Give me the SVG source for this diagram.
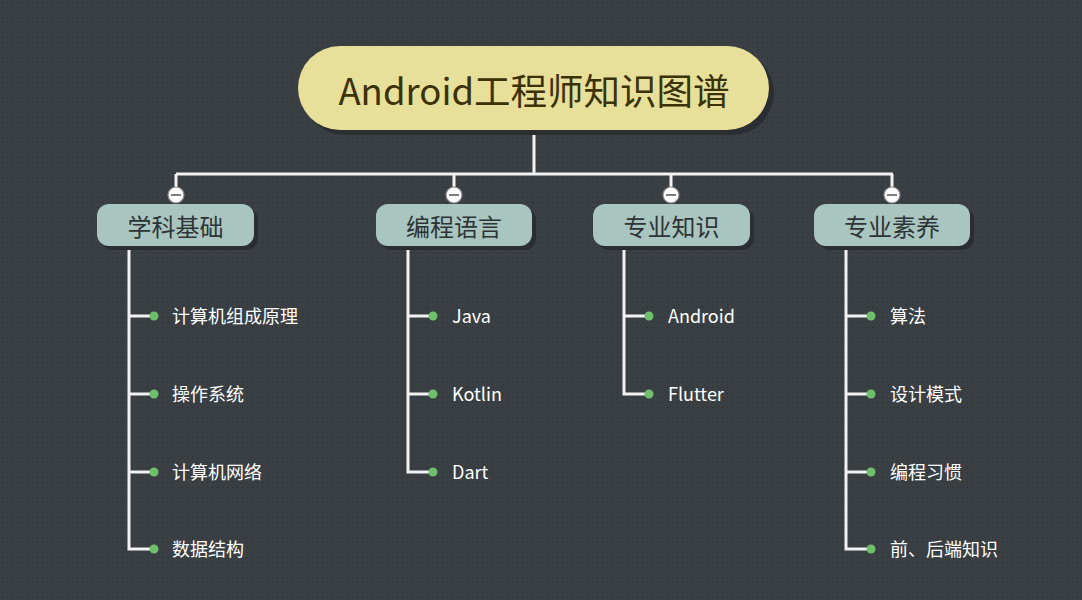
<svg xmlns="http://www.w3.org/2000/svg" width="1082" height="600" viewBox="0 0 1082 600">
<defs>
<pattern id="dots" width="5" height="5" patternUnits="userSpaceOnUse">
<rect width="5" height="5" fill="#3a3f44"/>
<rect x="2" y="2" width="1" height="1" fill="#2c3034"/>
</pattern>
<style>
.ln{fill:none;stroke:#f2f2f2;stroke-width:3;stroke-linejoin:miter}
.dot{fill:#6dbf6a}
.tog{fill:#fff;stroke:#8a8a8a;stroke-width:1.2}
.minus{stroke:#555;stroke-width:1.5}
.cat rect.b{fill:#a8c6bf}
.shadow{fill:#2a2d31}
.ct{font-family:"Noto Sans CJK SC","Noto Sans",sans-serif;font-size:24px;fill:#2e3436;text-anchor:middle}
.lt{font-family:"Noto Sans CJK SC","Noto Sans",sans-serif;font-size:18px;fill:#ffffff}
</style>
</defs>
<rect width="1082" height="600" fill="url(#dots)"/>
<g id="connectors">
<path class="ln" d="M534 130 V174 M176 174 H893 M176 174 V188 M454 174 V188 M671 174 V188 M892 174 V188"/>
<path class="ln" d="M129 246 V549 H153 M129 316 H153 M129 394 H153 M129 472 H153"/>
<path class="ln" d="M408 246 V472 H432 M408 316 H432 M408 394 H432"/>
<path class="ln" d="M624 246 V394 H648 M624 316 H648"/>
<path class="ln" d="M846 246 V549 H870 M846 316 H870 M846 394 H870 M846 472 H870"/>
<g>
<circle class="tog" cx="176" cy="195" r="8"/><line class="minus" x1="171" y1="195" x2="181" y2="195"/>
<circle class="tog" cx="454" cy="195" r="8"/><line class="minus" x1="449" y1="195" x2="459" y2="195"/>
<circle class="tog" cx="671" cy="195" r="8"/><line class="minus" x1="666" y1="195" x2="676" y2="195"/>
<circle class="tog" cx="892" cy="195" r="8"/><line class="minus" x1="887" y1="195" x2="897" y2="195"/>
</g>
</g>
<g id="root">
<rect class="shadow" x="303" y="51" width="471" height="84" rx="42"/>
<rect x="298" y="46" width="471" height="84" rx="42" fill="#e8df9a"/>
<text x="534" y="105" font-family="'Noto Sans CJK SC','Noto Sans',sans-serif" font-size="36.5" fill="#3b3208" text-anchor="middle">Android工程师知识图谱</text>
</g>
<g id="cat1" class="cat">
<rect class="shadow" x="101" y="208" width="157" height="42" rx="12"/>
<rect class="b" x="97" y="204" width="157" height="42" rx="12"/>
<text class="ct" x="175.5" y="236">学科基础</text>
</g>
<g id="cat2" class="cat">
<rect class="shadow" x="380" y="208" width="156" height="42" rx="12"/>
<rect class="b" x="376" y="204" width="156" height="42" rx="12"/>
<text class="ct" x="454" y="236">编程语言</text>
</g>
<g id="cat3" class="cat">
<rect class="shadow" x="597" y="208" width="157" height="42" rx="12"/>
<rect class="b" x="593" y="204" width="157" height="42" rx="12"/>
<text class="ct" x="671.5" y="236">专业知识</text>
</g>
<g id="cat4" class="cat">
<rect class="shadow" x="818" y="208" width="156" height="42" rx="12"/>
<rect class="b" x="814" y="204" width="156" height="42" rx="12"/>
<text class="ct" x="892" y="236">专业素养</text>
</g>
<g id="leaf1-1"><circle class="dot" cx="154" cy="316" r="4.5"/><text class="lt" x="172" y="323">计算机组成原理</text></g>
<g id="leaf1-2"><circle class="dot" cx="154" cy="394" r="4.5"/><text class="lt" x="172" y="401">操作系统</text></g>
<g id="leaf1-3"><circle class="dot" cx="154" cy="472" r="4.5"/><text class="lt" x="172" y="479">计算机网络</text></g>
<g id="leaf1-4"><circle class="dot" cx="154" cy="549" r="4.5"/><text class="lt" x="172" y="556">数据结构</text></g>
<g id="leaf2-1"><circle class="dot" cx="433" cy="316" r="4.5"/><text class="lt" x="452" y="323">Java</text></g>
<g id="leaf2-2"><circle class="dot" cx="433" cy="394" r="4.5"/><text class="lt" x="452" y="401">Kotlin</text></g>
<g id="leaf2-3"><circle class="dot" cx="433" cy="472" r="4.5"/><text class="lt" x="452" y="479">Dart</text></g>
<g id="leaf3-1"><circle class="dot" cx="649" cy="316" r="4.5"/><text class="lt" x="668" y="323">Android</text></g>
<g id="leaf3-2"><circle class="dot" cx="649" cy="394" r="4.5"/><text class="lt" x="668" y="401">Flutter</text></g>
<g id="leaf4-1"><circle class="dot" cx="871" cy="316" r="4.5"/><text class="lt" x="890" y="323">算法</text></g>
<g id="leaf4-2"><circle class="dot" cx="871" cy="394" r="4.5"/><text class="lt" x="890" y="401">设计模式</text></g>
<g id="leaf4-3"><circle class="dot" cx="871" cy="472" r="4.5"/><text class="lt" x="890" y="479">编程习惯</text></g>
<g id="leaf4-4"><circle class="dot" cx="871" cy="549" r="4.5"/><text class="lt" x="890" y="556">前、后端知识</text></g>
</svg>
